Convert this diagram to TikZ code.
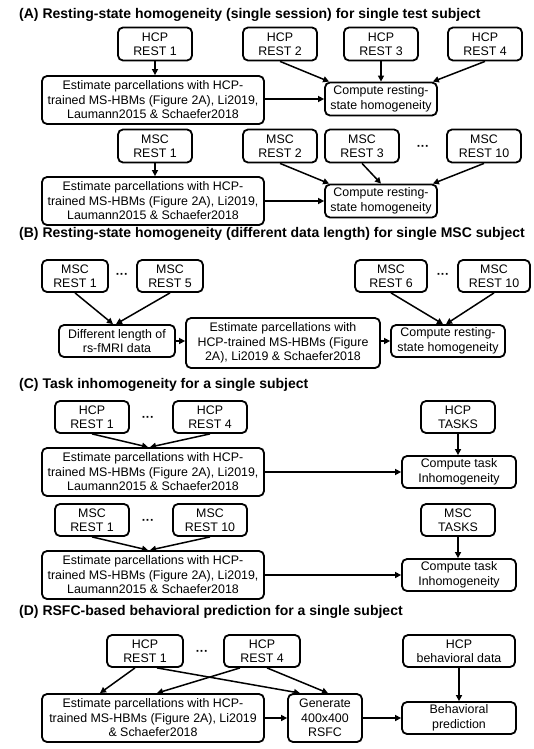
\documentclass[tikz,border=0pt]{standalone}
\usepackage{fontspec}
\setmainfont{Liberation Sans}
\usetikzlibrary{arrows.meta}
\begin{document}
\begin{tikzpicture}[x=1pt,y=-1pt,font=\fontsize{12.4}{14.5}\selectfont,
box/.style={draw,line width=1.8pt,rounded corners=5pt,align=center,inner sep=1pt},
rest/.style={box,minimum width=74pt,minimum height=33pt},
restb/.style={box,minimum width=66pt,minimum height=32pt},
est/.style={box,minimum width=222pt,minimum height=48pt},
cmp/.style={box,minimum width=112pt,minimum height=33pt},
dots/.style={font=\bfseries\fontsize{12.4}{14.5}\selectfont},
arr/.style={line width=1.5pt,-{Triangle[length=6pt,width=6pt]}},
title/.style={anchor=west,inner sep=0pt,font=\bfseries\fontsize{14}{16}\selectfont}]
\useasboundingbox (0,0) rectangle (534,749);
% (A)
\node [title] (ta) at (19,15) {(A) Resting-state homogeneity (single session) for single test subject};
\node [rest] (hr1) at (155,44) {HCP\\REST 1};
\node [rest] (hr2) at (280,44) {HCP\\REST 2};
\node [rest] (hr3) at (381,44) {HCP\\REST 3};
\node [rest] (hr4) at (485,44) {HCP\\REST 4};
\node [est] (est1) at (153,100) {Estimate parcellations with HCP-\\trained MS-HBMs (Figure 2A), Li2019,\\Laumann2015 \& Schaefer2018};
\node [cmp] (cmp1) at (381,99) {Compute resting-\\state homogeneity};
\draw [arr] (hr1) -- (hr1 |- est1.north);
\draw [arr] (est1.east |- cmp1.west) -- (cmp1.west);
\draw [arr] (hr2.south) -- ([xshift=5pt]cmp1.north west);
\draw [arr] (hr3) -- (cmp1);
\draw [arr] (hr4.south) -- ([xshift=-5pt]cmp1.north east);
\node [rest] (mr1) at (155,146) {MSC\\REST 1};
\node [rest] (mr2) at (280,146) {MSC\\REST 2};
\node [rest] (mr3) at (362,146) {MSC\\REST 3};
\node [dots] (md) at (423,148) {···};
\node [rest] (mr10) at (484,146) {MSC\\REST 10};
\node [est] (est2) at (153,201) {Estimate parcellations with HCP-\\trained MS-HBMs (Figure 2A), Li2019,\\Laumann2015 \& Schaefer2018};
\node [cmp] (cmp2) at (381,201) {Compute resting-\\state homogeneity};
\draw [arr] (mr1) -- (mr1 |- est2.north);
\draw [arr] (est2.east |- cmp2.west) -- (cmp2.west);
\draw [arr] (mr2.south) -- ([xshift=5pt]cmp2.north west);
\draw [arr] (mr3.south) -- (cmp2.north);
\draw [arr] (mr10.south) -- ([xshift=-5pt]cmp2.north east);
% (B)
\node [title] (tb) at (19,234) {(B) Resting-state homogeneity (different data length) for single MSC subject};
\node [restb] (bm1) at (75,276) {MSC\\REST 1};
\node [dots] (bd1) at (122,276) {···};
\node [restb] (bm5) at (170,276) {MSC\\REST 5};
\node [rest,minimum width=72pt,minimum height=32pt] (bm6) at (391,276) {MSC\\REST 6};
\node [dots] (bd2) at (443,276) {···};
\node [rest,minimum width=72pt,minimum height=32pt] (bm10) at (494,276) {MSC\\REST 10};
\node [cmp,minimum width=116pt,minimum height=32pt] (diff) at (117,341) {Different length of\\rs-fMRI data};
\node [box,minimum width=194pt,minimum height=50pt] (estb) at (283,343) {Estimate parcellations with\\HCP-trained MS-HBMs (Figure\\2A), Li2019 \& Schaefer2018};
\node [cmp,minimum width=114pt,minimum height=32pt] (cmpb) at (448,341) {Compute resting-\\state homogeneity};
\draw [arr] (bm1.south) -- ([xshift=-4pt]diff.north);
\draw [arr] (bm5.south) -- ([xshift=-1pt]diff.north);
\draw [arr] (diff.east) -- (diff.east -| estb.west);
\draw [arr] (estb.east |- cmpb.west) -- (cmpb.west);
\draw [arr] (bm6.south) -- ([xshift=-5pt]cmpb.north);
\draw [arr] (bm10.south) -- ([xshift=-2pt]cmpb.north);
% (C)
\node [title] (tc) at (19,385) {(C) Task inhomogeneity for a single subject};
\node [rest,minimum height=32pt] (hc1) at (92,417) {HCP\\REST 1};
\node [dots] (cd1) at (148,419) {···};
\node [rest,minimum height=32pt] (hc4) at (210,417) {HCP\\REST 4};
\node [rest,minimum height=32pt] (hct) at (458,417) {HCP\\TASKS};
\node [est] (estc1) at (153,472) {Estimate parcellations with HCP-\\trained MS-HBMs (Figure 2A), Li2019,\\Laumann2015 \& Schaefer2018};
\node [cmp,minimum width=114pt,minimum height=32pt] (cmpc1) at (459,472) {Compute task\\Inhomogeneity};
\draw [arr] (hc1.south) -- ([xshift=-5pt]estc1.north);
\draw [arr] (hc4.south) -- ([xshift=-3pt]estc1.north);
\draw [arr] (estc1.east) -- (cmpc1.west);
\draw [arr] (hct) -- (hct |- cmpc1.north);
\node [rest,minimum height=32pt] (mc1) at (92,520) {MSC\\REST 1};
\node [dots] (cd2) at (148,522) {···};
\node [rest,minimum height=32pt] (mc10) at (210,520) {MSC\\REST 10};
\node [rest,minimum height=32pt] (mct) at (458,520) {MSC\\TASKS};
\node [est] (estc2) at (153,575) {Estimate parcellations with HCP-\\trained MS-HBMs (Figure 2A), Li2019,\\Laumann2015 \& Schaefer2018};
\node [cmp,minimum width=114pt,minimum height=32pt] (cmpc2) at (459,575) {Compute task\\Inhomogeneity};
\draw [arr] (mc1.south) -- ([xshift=-5pt]estc2.north);
\draw [arr] (mc10.south) -- ([xshift=-3pt]estc2.north);
\draw [arr] (estc2.east) -- (cmpc2.west);
\draw [arr] (mct) -- (mct |- cmpc2.north);
% (D)
\node [title] (td) at (19,612) {(D) RSFC-based behavioral prediction for a single subject};
\node [rest,minimum width=76pt,minimum height=32pt] (hd1) at (145,651) {HCP\\REST 1};
\node [dots] (dd) at (202,653) {···};
\node [rest,minimum width=76pt,minimum height=32pt] (hd4) at (262,651) {HCP\\REST 4};
\node [cmp,minimum width=112pt,minimum height=32pt] (hbeh) at (459,651) {HCP\\behavioral data};
\node [est] (estd) at (153,718) {Estimate parcellations with HCP-\\trained MS-HBMs (Figure 2A), Li2019\\\& Schaefer2018};
\node [box,minimum width=74pt,minimum height=48pt] (gen) at (325,718) {Generate\\400x400\\RSFC};
\node [cmp,minimum width=114pt,minimum height=32pt] (pred) at (459,718) {Behavioral\\prediction};
\draw [arr] ([xshift=-10pt]hd1.south) -- ([xshift=-53pt]estd.north);
\draw [arr] ([xshift=12pt]hd1.south) -- ([xshift=-25pt]gen.north);
\draw [arr] ([xshift=-22pt]hd4.south) -- ([xshift=4pt]estd.north);
\draw [arr] ([xshift=5pt]hd4.south) -- ([xshift=3pt]gen.north);
\draw [arr] (estd.east) -- (gen.west);
\draw [arr] (gen.east) -- (pred.west);
\draw [arr] (hbeh) -- (hbeh |- pred.north);
\end{tikzpicture}
\end{document}
